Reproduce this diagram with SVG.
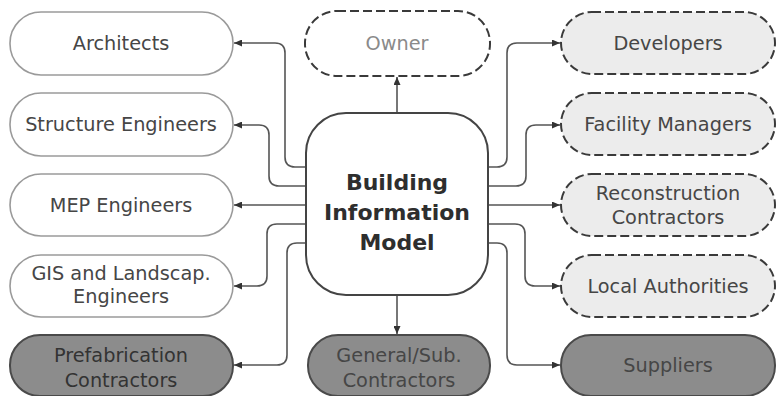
<svg xmlns="http://www.w3.org/2000/svg" width="778" height="396" viewBox="0 0 778 396">
<defs>
<marker id="arr" markerUnits="userSpaceOnUse" markerWidth="9" markerHeight="7" refX="8" refY="3.5" orient="auto">
<path d="M0,0 L8,3.5 L0,7 z" fill="#333"/>
</marker>
<style>
.plain{fill:#fff;stroke:#9a9a9a;stroke-width:1.6}
.dash{fill:#ececec;stroke:#3a3a3a;stroke-width:2;stroke-dasharray:9 4}
.dashw{fill:#fff;stroke:#3a3a3a;stroke-width:2;stroke-dasharray:9 4}
.dark{fill:#8c8c8c;stroke:#4a4a4a;stroke-width:2}
.bim{fill:#fff;stroke:#444;stroke-width:2}
.t{font-family:"DejaVu Sans",sans-serif;font-size:19.3px;fill:#464646;text-anchor:middle}
.tl{fill:#8a8a8a}
.td{fill:#333}
.tb{font-family:"DejaVu Sans",sans-serif;font-size:22px;font-weight:bold;fill:#2e2e2e;text-anchor:middle}
.c{fill:none;stroke:#555;stroke-width:1.6;marker-end:url(#arr)}
</style>
</defs>
<g id="connectors">
<path class="c" d="M306,167 H295 Q285,167 285,157 V53 Q285,43 275,43 H234"/>
<path class="c" d="M306,186 H279 Q269,186 269,176 V135 Q269,125 259,125 H234"/>
<path class="c" d="M306,205 H234"/>
<path class="c" d="M306,224 H277 Q267,224 267,234 V276 Q267,286 257,286 H234"/>
<path class="c" d="M306,243 H297 Q287,243 287,253 V355 Q287,365 277,365 H234"/>
<path class="c" d="M488,167 H497 Q507,167 507,157 V53 Q507,43 517,43 H560"/>
<path class="c" d="M488,186 H516 Q526,186 526,176 V135 Q526,125 536,125 H560"/>
<path class="c" d="M488,205 H560"/>
<path class="c" d="M488,224 H515 Q525,224 525,234 V276 Q525,286 535,286 H560"/>
<path class="c" d="M488,243 H497 Q507,243 507,253 V355 Q507,365 517,365 H560"/>
<path class="c" d="M397,113 V77"/>
<path class="c" d="M397,295 V334"/>
</g>
<g id="bim">
<rect class="bim" x="306" y="113" width="182" height="182" rx="40"/>
<text class="tb" x="397" y="190">Building</text>
<text class="tb" x="397" y="220">Information</text>
<text class="tb" x="397" y="250">Model</text>
</g>
<g id="architects">
<rect class="plain" x="10" y="12" width="223" height="63" rx="31"/>
<text class="t" x="121" y="50">Architects</text>
</g>
<g id="structure">
<rect class="plain" x="10" y="93" width="223" height="63" rx="31"/>
<text class="t" x="121" y="131">Structure Engineers</text>
</g>
<g id="mep">
<rect class="plain" x="10" y="174" width="223" height="62" rx="31"/>
<text class="t" x="121" y="212">MEP Engineers</text>
</g>
<g id="gis">
<rect class="plain" x="10" y="255" width="223" height="62" rx="31"/>
<text class="t" x="121" y="280">GIS and Landscap.</text>
<text class="t" x="121" y="303">Engineers</text>
</g>
<g id="prefab">
<rect class="dark" x="10" y="335" width="223" height="61" rx="30"/>
<text class="t td" x="121" y="362">Prefabrication</text>
<text class="t td" x="121" y="387">Contractors</text>
</g>
<g id="owner">
<rect class="dashw" x="305" y="11" width="185" height="65" rx="32"/>
<text class="t tl" x="397" y="50">Owner</text>
</g>
<g id="general">
<rect class="dark" x="308" y="335" width="182" height="61" rx="30"/>
<text class="t" x="399" y="362">General/Sub.</text>
<text class="t" x="399" y="387">Contractors</text>
</g>
<g id="developers">
<rect class="dash" x="561" y="12" width="214" height="62" rx="31"/>
<text class="t" x="668" y="50">Developers</text>
</g>
<g id="facility">
<rect class="dash" x="561" y="93" width="214" height="62" rx="31"/>
<text class="t" x="668" y="131">Facility Managers</text>
</g>
<g id="reconstruction">
<rect class="dash" x="561" y="174" width="214" height="62" rx="31"/>
<text class="t" x="668" y="200">Reconstruction</text>
<text class="t" x="668" y="224">Contractors</text>
</g>
<g id="local">
<rect class="dash" x="561" y="255" width="214" height="62" rx="31"/>
<text class="t" x="668" y="293">Local Authorities</text>
</g>
<g id="suppliers">
<rect class="dark" x="561" y="335" width="214" height="61" rx="30"/>
<text class="t" x="668" y="372">Suppliers</text>
</g>
</svg>
